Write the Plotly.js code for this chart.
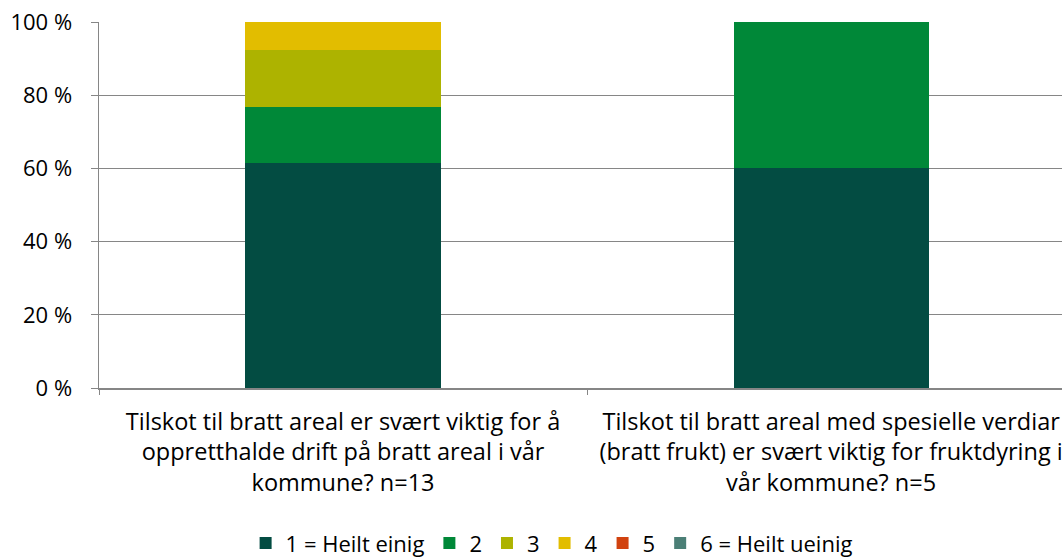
<!DOCTYPE html>
<html>
<head>
<meta charset="utf-8">
<script src="https://cdn.plot.ly/plotly-3.0.1.min.js"></script>
<style>html,body{margin:0;padding:0;background:#fff;}#chart{width:1062px;height:558px;}</style>
</head>
<body>
<div id="chart"></div>
<script>
const categories = [
  "Tilskot til bratt areal er svært viktig for å<br>oppretthalde drift på bratt areal i vår<br>kommune? n=13",
  "Tilskot til bratt areal med spesielle verdiar<br>(bratt frukt) er svært viktig for fruktdyring i<br>vår kommune? n=5"
];
const seriesNames = ["1 = Heilt einig", "2", "3", "4", "5", "6 = Heilt ueinig"];
const s1 = [61.5, 60.0];
const s2 = [15.4, 40.0];
const s3 = [15.4, 0];
const s4 = [7.7, 0];
const s5 = [0, 0];
const s6 = [0, 0];
const colors = ["#034C42", "#008838", "#ADB300", "#E2BD00", "#D1420F", "#4B7F76"];
const yTicks = [0, 20, 40, 60, 80, 100];
const yTickLabels = ["0 %", "20 %", "40 %", "60 %", "80 %", "100 %"];

const series = [s1, s2, s3, s4, s5, s6];
const xIdx = categories.map((c, i) => i);
const traces = series.map((vals, i) => ({
  type: "bar",
  x: xIdx,
  y: vals,
  name: seriesNames[i],
  marker: {color: colors[i], line: {width: 0}},
  width: 0.4,
  hoverinfo: "y+name"
}));

const fam = "Open Sans, Noto Sans, sans-serif";
const layout = {
  width: 1062, height: 558,
  margin: {l: 99, r: 0, t: 22, b: 170, autoexpand: false},
  barmode: "stack",
  paper_bgcolor: "#fff",
  plot_bgcolor: "#fff",
  font: {family: fam, size: 22, color: "#000"},
  showlegend: true,
  legend: {
    orientation: "h", x: 0.47, xanchor: "center", y: -0.424, yanchor: "middle",
    font: {family: fam, size: 22, color: "#000"},
    traceorder: "normal", itemclick: false, itemwidth: 30
  },
  xaxis: {
    range: [-0.5, 1.473],
    tickmode: "array", tickvals: xIdx, ticktext: categories,
    ticks: "", showgrid: false, zeroline: false,
    showline: true, linecolor: "#868686", linewidth: 1.5,
    tickfont: {family: fam, size: 23.5, color: "#000"},
    ticklabelstandoff: 12,
    ticklabeloverflow: "allow",
    automargin: false,
    fixedrange: true
  },
  xaxis2: {
    overlaying: "x", anchor: "y", side: "bottom",
    range: [-0.5, 1.473],
    tickmode: "array", tickvals: [-0.5, 0.5, 1.5],
    ticks: "outside", ticklen: 6, tickcolor: "#868686", tickwidth: 1,
    showticklabels: false, showgrid: false, zeroline: false, showline: false
  },
  yaxis: {
    range: [0, 100],
    tickmode: "array", tickvals: yTicks, ticktext: yTickLabels,
    ticks: "outside", ticklen: 7, tickcolor: "#868686",
    showgrid: true, gridcolor: "#868686", gridwidth: 1,
    zeroline: false,
    showline: true, linecolor: "#868686", linewidth: 1.5,
    tickfont: {family: fam, size: 22, color: "#000"},
    ticklabelstandoff: 14,
    automargin: false,
    fixedrange: true
  }
};
traces.push({type: "scatter", x: [], y: [], xaxis: "x2", yaxis: "y", showlegend: false, hoverinfo: "skip"});
Plotly.newPlot("chart", traces, layout, {displayModeBar: false, staticPlot: true});
</script>
</body>
</html>
